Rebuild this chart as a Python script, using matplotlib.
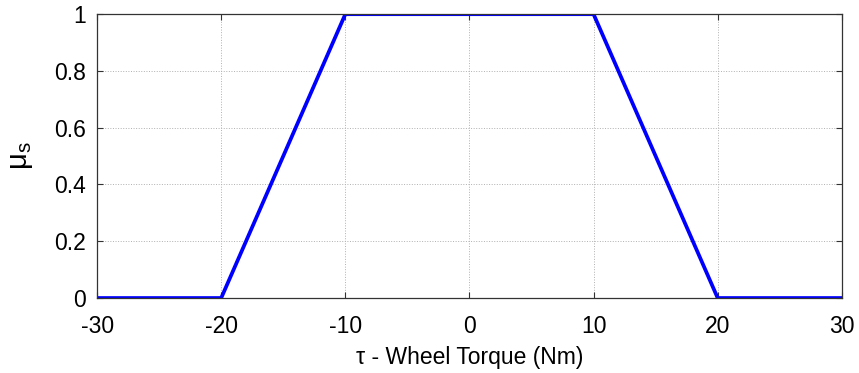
import matplotlib
matplotlib.use("Agg")
import matplotlib.pyplot as plt

# membership function breakpoints
torque = [-30, -20, -10, 10, 20, 30]
mu_s = [0, 0, 1, 1, 0, 0]

x_ticks = [-30, -20, -10, 0, 10, 20, 30]
y_ticks = [0, 0.2, 0.4, 0.6, 0.8, 1]
y_ticklabels = ['0', '0.2', '0.4', '0.6', '0.8', '1']

plt.rcParams['font.family'] = ['Liberation Sans', 'DejaVu Sans']
plt.rcParams['axes.unicode_minus'] = False
plt.rcParams['mathtext.fontset'] = 'custom'
plt.rcParams['mathtext.rm'] = 'Liberation Sans'
plt.rcParams['mathtext.it'] = 'Liberation Sans'

fig = plt.figure(figsize=(8.59, 3.73), dpi=100)
ax = fig.add_axes([0.113, 0.201, 0.867, 0.761])

ax.plot(torque, mu_s, color='#0000ff', linewidth=2.7, solid_joinstyle='miter')

ax.set_xlim(-30, 30)
ax.set_ylim(0, 1)
ax.set_xticks(x_ticks)
ax.set_yticks(y_ticks)
ax.set_yticklabels(y_ticklabels)
ax.tick_params(direction='in', length=4, width=0.8, labelsize=16.5, color='#333333',
               top=True, right=True)
ax.tick_params(axis='x', pad=12)
ax.tick_params(axis='y', pad=8)
ax.grid(True, linestyle=':', linewidth=0.7, color='#b0b0b0')
for s in ax.spines.values():
    s.set_color('#333333')
    s.set_linewidth(0.9)

ax.set_xlabel('\u03c4 - Wheel Torque (Nm)', fontsize=16.5, labelpad=6)
ax.set_ylabel(r'$\mathregular{\mu_s}$', fontsize=21, labelpad=14)

fig.savefig('out.png', dpi=100)
